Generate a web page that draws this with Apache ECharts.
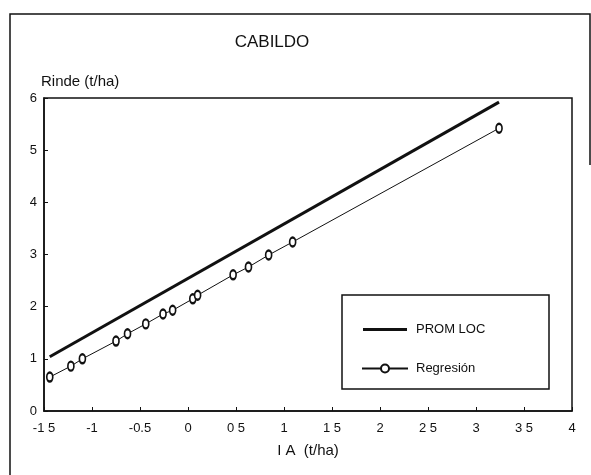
<!DOCTYPE html>
<html>
<head>
<meta charset="utf-8">
<script src="https://cdn.jsdelivr.net/npm/echarts@6/dist/echarts.min.js"></script>
<style>
html,body{margin:0;padding:0;background:#fff;}
#c{width:591px;height:475px;}
</style>
</head>
<body>
<div id="c"></div>
<script>
// Data
var regX = [-1.44, -1.22, -1.10, -0.75, -0.63, -0.44, -0.26, -0.16, 0.05, 0.10, 0.47, 0.63, 0.84, 1.09, 3.24];
var regY = [0.65, 0.86, 1.00, 1.34, 1.48, 1.67, 1.86, 1.93, 2.15, 2.22, 2.61, 2.76, 2.99, 3.24, 5.42];
var promX = [-1.44, 3.24];
var promY = [1.04, 5.92];
var xTickValues = [-1.5, -1, -0.5, 0, 0.5, 1, 1.5, 2, 2.5, 3, 3.5, 4];
var xTickLabels = ['-1 5', '-1', '-0.5', '0', '0 5', '1', '1 5', '2', '2 5', '3', '3 5', '4'];
var seriesNames = ['PROM LOC', 'Regresión'];

function pairs(xs, ys) { return xs.map(function (x, i) { return [x, ys[i]]; }); }

var font = 'Liberation Sans, Arial, Helvetica, sans-serif';
var thickLineIcon = 'path://M0,0 L0.01,0 L0,0.01 Z M0,3.6 L44,3.6 L44,6.4 L0,6.4 Z M44,10 L43.99,10 L44,9.99 Z';
var chart = echarts.init(document.getElementById('c'), null, {renderer: 'canvas'});
chart.setOption({
  animation: false,
  backgroundColor: '#fff',
  title: {
    text: 'CABILDO', left: 267, top: 29, textAlign: 'center',
    textStyle: {fontFamily: font, fontSize: 17, fontWeight: 'normal', color: '#111'}
  },
  grid: {left: 44, right: 19, top: 98, bottom: 64, show: true, borderColor: '#111', borderWidth: 1.5, backgroundColor: 'transparent'},
  xAxis: {
    type: 'value', min: -1.5, max: 4, interval: 0.5,
    name: 'I A  (t/ha)', nameLocation: 'middle', nameGap: 32,
    nameTextStyle: {fontFamily: font, fontSize: 15, color: '#111'},
    axisLine: {onZero: false, lineStyle: {color: '#111', width: 1.5}},
    axisTick: {inside: true, length: 4, lineStyle: {color: '#111'}},
    splitLine: {show: false},
    axisLabel: {
      fontFamily: font, fontSize: 13, color: '#111', margin: 11,
      formatter: function (v) { var i = xTickValues.indexOf(v); return i >= 0 ? xTickLabels[i] : ''; }
    }
  },
  yAxis: {
    type: 'value', min: 0, max: 6, interval: 1,
    name: 'Rinde (t/ha)', nameLocation: 'end', nameGap: 9,
    nameTextStyle: {fontFamily: font, fontSize: 15, color: '#111', align: 'left', padding: [0, 0, 0, -3]},
    axisLine: {onZero: false, lineStyle: {color: '#111', width: 1.5}},
    axisTick: {inside: true, length: 4, lineStyle: {color: '#111'}},
    splitLine: {show: false},
    axisLabel: {fontFamily: font, fontSize: 13, color: '#111', margin: 7}
  },
  legend: {
    orient: 'vertical', left: 356, top: 318, itemGap: 26,
    itemWidth: 46, itemHeight: 10,
    textStyle: {fontFamily: font, fontSize: 13, color: '#111', padding: [0, 0, 0, 3]},
    data: [
      {name: seriesNames[0], icon: thickLineIcon, itemStyle: {color: '#111'}},
      {name: seriesNames[1]}
    ]
  },
  graphic: [
    {type: 'rect', shape: {x: 342, y: 295, width: 207, height: 94}, style: {fill: 'none', stroke: '#111', lineWidth: 1.5}, z: 100},
    {type: 'polyline', shape: {points: [[590, 165], [590, 14], [10, 14], [10, 475]]}, style: {fill: 'none', stroke: '#111', lineWidth: 1.5}, z: 100}
  ],
  series: [
    {
      name: seriesNames[0], type: 'line', data: pairs(promX, promY),
      showSymbol: false, symbol: 'none',
      lineStyle: {color: '#111', width: 3}, itemStyle: {color: '#111'}
    },
    {
      name: seriesNames[1], type: 'line', data: pairs(regX, regY),
      symbol: 'emptyCircle', symbolSize: [6, 9],
      lineStyle: {color: '#111', width: 1}, itemStyle: {color: '#111', borderWidth: 1.2}
    }
  ]
});
</script>
</body>
</html>
